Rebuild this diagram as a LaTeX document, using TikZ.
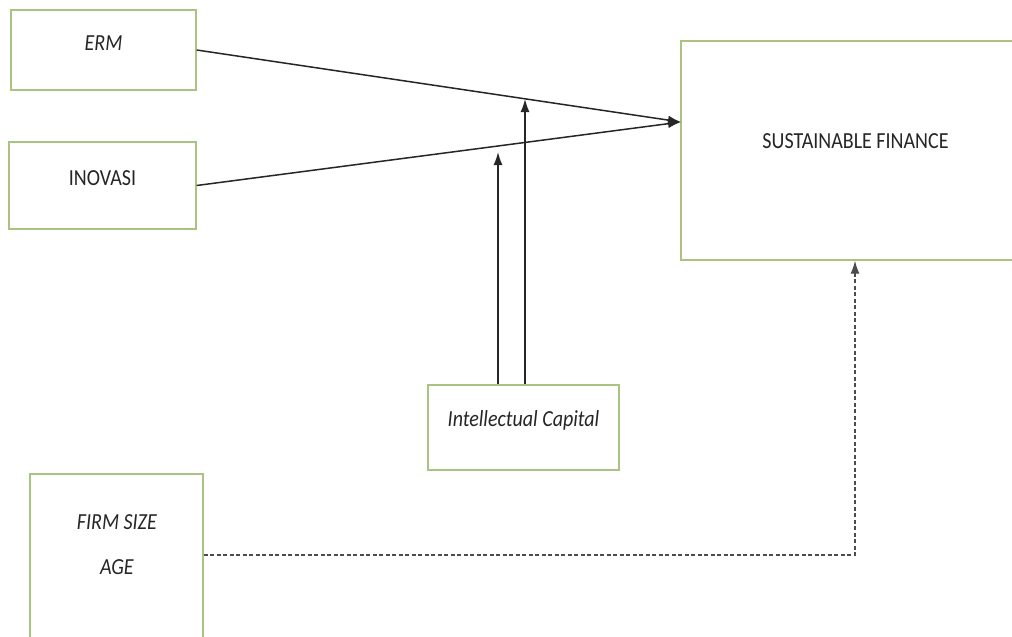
\documentclass[tikz,border=0pt]{standalone}
\usepackage{fontspec}
\setmainfont{Carlito}[FakeStretch=0.87]
\usetikzlibrary{arrows.meta}
\definecolor{boxgreen}{RGB}{168,196,128}
\tikzset{
	box/.style={draw=boxgreen, line width=1.4pt, rectangle, inner sep=0pt},
	arr/.style={line width=1.5pt, draw=black!85, -{Latex[length=13pt,width=9pt]}},
	dasharr/.style={arr, line width=1.3pt, draw=black!70, dash pattern=on 4pt off 2.5pt}
}
\begin{document}
\begin{tikzpicture}[x=1pt, y=-1pt, font=\fontsize{23}{27}\selectfont]
	\clip (0,0) rectangle (1012,637);
	\fill[white] (0,0) rectangle (1012,637);

	\node[box, minimum width=185pt, minimum height=80pt, label={[yshift=7pt, text=black!85]center:\textit{ERM}}] (erm) at (103.5,50) {};
	\node[box, minimum width=187pt, minimum height=87pt, label={[yshift=7pt, text=black!85]center:INOVASI}] (inov) at (102.5,185.5) {};
	\node[box, minimum width=349pt, minimum height=219pt, label={[yshift=9pt, text=black!85]center:SUSTAINABLE FINANCE}] (sf) at (855.5,150.5) {};
	\node[box, minimum width=191pt, minimum height=85pt, label={[yshift=7pt, text=black!85]center:\textit{Intellectual Capital}}] (ic) at (523.5,427.5) {};
	\node[box, minimum width=173pt, minimum height=206pt] (firm) at (116.5,577) {};
	\node[align=center, text=black!85] (firmtxt) at (117,545) {\textit{FIRM SIZE}\\[18pt]\textit{AGE}};

	\coordinate (hit) at (681,122);
	\coordinate (m1) at (498,152);
	\coordinate (m2) at (525,99);
	\coordinate (bend) at (855,555);

	\draw[arr] (erm.east) -- (hit);
	\draw[arr] (inov.east) -- (hit);
	\draw[arr] (ic.north -| m1) -- (m1);
	\draw[arr] (ic.north -| m2) -- (m2);
	\draw[dasharr] (firm.east |- bend) -- (bend) -- (bend |- sf.south);
\end{tikzpicture}
\end{document}
